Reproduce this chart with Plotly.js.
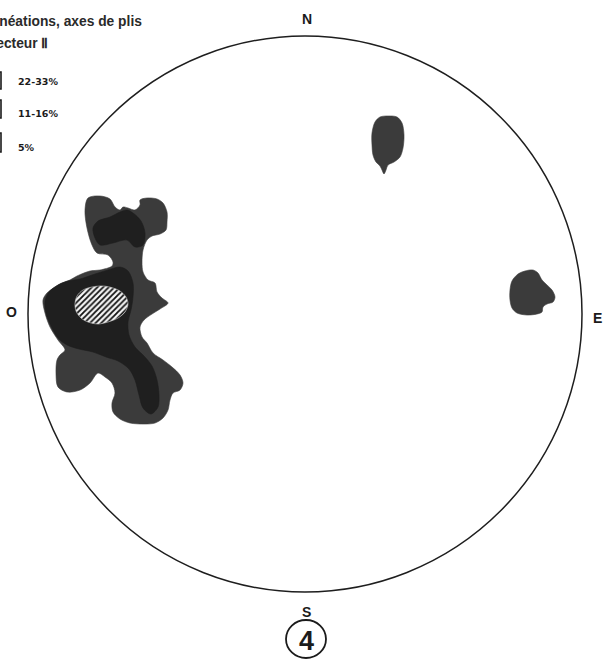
<!DOCTYPE html>
<html>
<head>
<meta charset="utf-8">
<script src="https://cdn.plot.ly/plotly-3.0.1.min.js"></script>
<style>
  html, body { margin: 0; padding: 0; background: #fff; }
  #net { width: 604px; height: 659px; }
</style>
</head>
<body>
<div id="net"></div>
<script>
// Schmidt net, lower hemisphere: lineations and fold axes, sector II.
// Contour outlines in sheet units (1 unit = 1 px) from the net centre;
// the primitive circle has a radius of 277.

// Density levels (legend order, densest first)
const levelLabels = ["22-33%", "11-16%", "5%"];
const levelColors = ["#f2f2f2", "#1f1f1f", "#3b3b3b"];

// 5% contour, western cluster
const westOuterX = [-262,-258,-250,-243,-235,-228,-215,-205,-193,-192,-197,-208,-213,-218,-220,-217,-205,-195,-190,-185,-182,-177,-170,-165,-165,-158,-148,-142,-138,-138,-139,-145,-153,-158,-162,-163,-162,-157,-150,-148,-143,-137,-145,-153,-161,-165,-163,-158,-152,-142,-133,-125,-122,-125,-132,-135,-137,-142,-150,-160,-175,-185,-192,-193,-190,-193,-200,-207,-215,-225,-238,-247,-249,-248,-245,-240,-247,-255,-260];
const westOuterY = [14,21,27,31,34,38,43,44,48,52,59,61,69,86,104,116,118,115,107,104,107,106,104,109,114,116,115,111,102,92,84,80,78,74,64,52,42,34,31,22,16,11,5,0,-6,-13,-23,-29,-39,-46,-53,-61,-69,-76,-79,-86,-96,-104,-109,-110,-109,-105,-98,-89,-79,-69,-63,-59,-69,-76,-78,-73,-59,-46,-41,-36,-26,-13,1];

// 11-16% contour, western cluster (main core)
const westCoreX = [-260,-256,-247,-237,-225,-210,-197,-185,-177,-172,-172,-174,-177,-176,-170,-161,-153,-148,-146,-147,-154,-162,-166,-170,-176,-187,-199,-212,-226,-238,-247,-254,-259];
const westCoreY = [13,22,29,33,35,40,44,47,43,31,17,4,-8,-21,-33,-42,-52,-66,-81,-93,-100,-94,-81,-66,-55,-47,-43,-38,-35,-31,-24,-12,1];

// 11-16% contour, western cluster (northern lobe)
const westLobeX = [-212,-207,-195,-185,-178,-172,-164,-160,-162,-170,-178,-192,-205,-210];
const westLobeY = [86,93,97,102,104,101,93,81,69,67,74,71,69,76];

// 22-33% contour, western maximum
const westMaxX = [-230,-228,-222,-213,-202,-192,-185,-179,-177,-180,-187,-197,-207,-217,-224,-229];
const westMaxY = [11,18,24,27,28,26,23,17,10,2,-4,-8,-10,-8,-4,3];

// 5% contour, north-north-east
const northX = [70,75,83,92,97,99,98,95,89,83,81,79,77,75,71,68,67,67];
const northY = [192,197,198,197,191,179,166,157,152,149,144,140,144,148,152,159,169,181];

// 5% contour, east
const eastX = [213,220,228,233,237,242,247,250,248,242,238,237,232,222,212,207,205,205,207];
const eastY = [40,43,44,41,34,29,24,17,12,10,7,2,0,-1,1,6,14,24,33];

function area(x, y, color, pattern) {
  const t = {
    type: "scatter",
    mode: "lines",
    x: x.concat([x[0]]),
    y: y.concat([y[0]]),
    fill: "toself",
    fillcolor: color,
    line: { color: color, width: 0.6, shape: "spline", smoothing: 0.9 },
    hoverinfo: "skip"
  };
  if (pattern) {
    t.fillpattern = { shape: "/", fgcolor: "#111111", bgcolor: "#f6f6f6", size: 4, solidity: 0.45 };
    t.line.color = "#d0d0d0";
  }
  return t;
}

const traces = [
  area(westOuterX, westOuterY, levelColors[2]),
  area(westCoreX, westCoreY, levelColors[1]),
  area(westLobeX, westLobeY, levelColors[1]),
  area(westMaxX, westMaxY, levelColors[0], true),
  area(northX, northY, levelColors[2]),
  area(eastX, eastY, levelColors[2])
];

const ink = "#1b1b1b";
const bold = { family: "Liberation Sans, Arial, sans-serif", size: 14, color: ink, weight: "bold" };
const heading = { family: "Liberation Sans, Arial, sans-serif", size: 13.8, color: "#2a2a2a", weight: "bold" };

const annotations = [
  { x: -161, y: 293, text: "Linéations, axes de plis", xanchor: "right", yanchor: "middle", font: heading },
  { x: -255, y: 271, text: "Secteur Ⅱ", xanchor: "right", yanchor: "middle", font: heading },
  { x: 2, y: 295, text: "N", font: bold },
  { x: 1, y: -298, text: "S", font: bold },
  { x: -294, y: 2, text: "O", font: bold },
  { x: 292, y: -4, text: "E", font: bold },
  { x: 1, y: -327, text: "4", font: { family: "Liberation Sans, Arial, sans-serif", size: 27, color: ink, weight: "bold" } }
];

// legend labels, densest level at the top
const legendY = [233, 201, 167];
const legendBoxY = [[225, 242], [196, 214], [162, 181]];
levelLabels.forEach((lab, i) => {
  annotations.push({ x: -289, y: legendY[i], text: lab, xanchor: "left", yanchor: "middle",
    font: { family: "DejaVu Sans, sans-serif", size: 9.5, color: ink, weight: "bold" } });
});

const shapes = [
  // primitive circle of the net
  { type: "circle", xref: "x", yref: "y", x0: -277, x1: 277, y0: -278, y1: 278,
    line: { color: "#1e1e1e", width: 1.5 }, layer: "above" },
  // sheet number ring
  { type: "circle", xref: "x", yref: "y", x0: -19, x1: 21, y0: -344, y1: -306,
    line: { color: ink, width: 1.8 } }
];
legendBoxY.forEach((b, i) => {
  shapes.push({ type: "rect", xref: "x", yref: "y", x0: -330, x1: -304, y0: b[0], y1: b[1],
    line: { color: ink, width: 1.6 }, fillcolor: "#ffffff" });
});

const layout = {
  width: 604,
  height: 659,
  margin: { l: 0, r: 0, t: 0, b: 0, pad: 0 },
  paper_bgcolor: "#ffffff",
  plot_bgcolor: "#ffffff",
  showlegend: false,
  xaxis: { range: [-305, 299], visible: false, fixedrange: true },
  yaxis: { range: [-345, 314], visible: false, fixedrange: true },
  annotations: annotations.map(a => Object.assign({ xref: "x", yref: "y", showarrow: false }, a)),
  shapes: shapes
};

Plotly.newPlot("net", traces, layout, { displayModeBar: false, staticPlot: true });
</script>
</body>
</html>
